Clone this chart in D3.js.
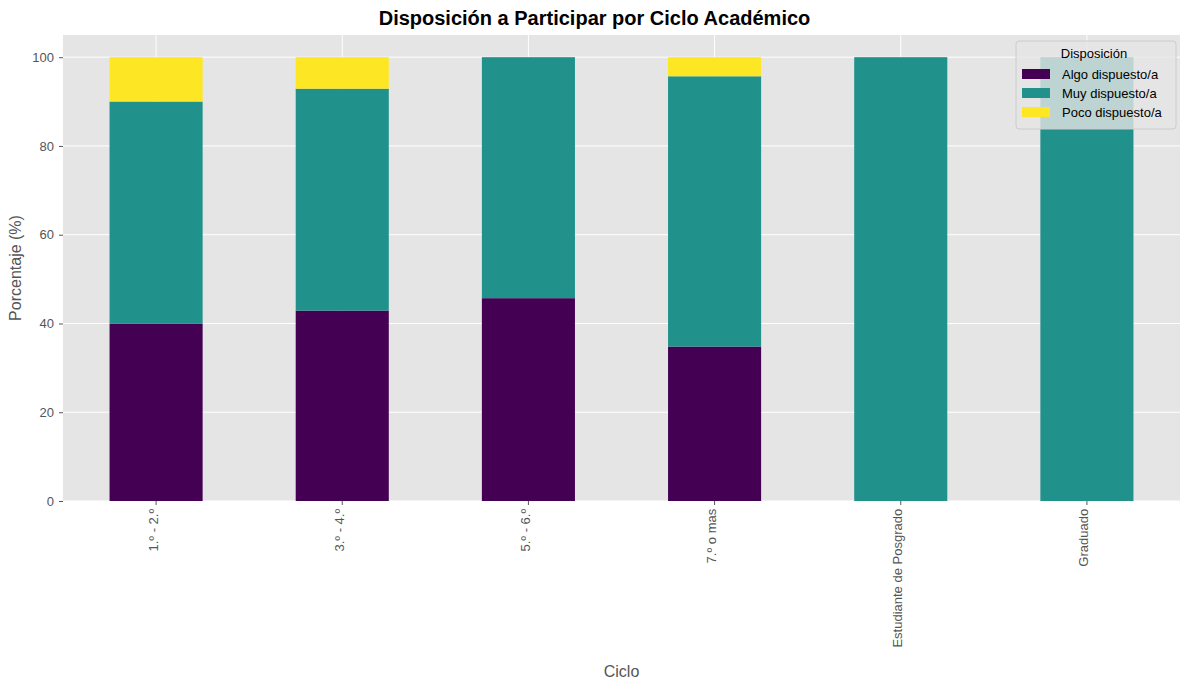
<!DOCTYPE html>
<html><head><meta charset="utf-8">
<script src="https://cdn.jsdelivr.net/npm/d3@7"></script>
<style>body{margin:0;background:#fff;font-family:Arial,"Liberation Sans",sans-serif}</style>
</head><body><div id="chart"></div>
<script>
var categories = ["1.º - 2.º", "3.º - 4.º", "5.º - 6.º", "7.º o mas", "Estudiante de Posgrado", "Graduado"];
var seriesNames = ["Algo dispuesto/a", "Muy dispuesto/a", "Poco dispuesto/a"];
var algo = [40.0, 42.9, 45.7, 34.8, 0, 0];
var muy = [50.0, 50.0, 54.3, 60.9, 100, 100];
var poco = [10.0, 7.1, 0, 4.3, 0, 0];
var colors = ["#440154", "#21918c", "#fde725"];
var yTicks = [0, 20, 40, 60, 80, 100];

var margin = {top: 35, right: 9, bottom: 189, left: 63};
var width = 1189 - margin.left - margin.right;
var height = 690 - margin.top - margin.bottom;

var svg = d3.select("#chart").append("svg")
	.attr("width", 1189).attr("height", 690);

svg.append("text").attr("x", 1189 / 2).attr("y", 25)
	.attr("text-anchor", "middle").style("font-size", "20px").style("font-weight", "bold")
	.text("Disposición a Participar por Ciclo Académico");

var g = svg.append("g").attr("transform", "translate(" + margin.left + "," + margin.top + ")");

var x = d3.scaleBand().domain(categories).range([0, width]).paddingInner(0.5).paddingOuter(0.25);
var y = d3.scaleLinear().domain([0, 105]).range([height, 0]);

g.append("rect").attr("width", width).attr("height", height).attr("fill", "#e5e5e5");

// grid
g.selectAll(".gy").data(yTicks).enter().append("line")
	.attr("x1", 0).attr("x2", width).attr("y1", d => y(d)).attr("y2", d => y(d))
	.attr("stroke", "#fff").attr("stroke-width", 1);
g.selectAll(".gx").data(categories).enter().append("line")
	.attr("y1", 0).attr("y2", height)
	.attr("x1", d => x(d) + x.bandwidth() / 2).attr("x2", d => x(d) + x.bandwidth() / 2)
	.attr("stroke", "#fff").attr("stroke-width", 1);

// stacked bars
var rows = categories.map((c, i) => ({cat: c, s0: algo[i], s1: muy[i], s2: poco[i]}));
var stack = d3.stack().keys(["s0", "s1", "s2"])(rows);
stack.forEach(function(layer, k) {
	g.selectAll(".b" + k).data(layer).enter().append("rect")
		.attr("x", d => x(d.data.cat))
		.attr("width", x.bandwidth())
		.attr("y", d => y(d[1]))
		.attr("height", d => y(d[0]) - y(d[1]))
		.attr("fill", colors[k]);
});

// axes
var yAxis = g.append("g").call(d3.axisLeft(y).tickValues(yTicks).tickSize(4).tickPadding(5));
yAxis.select(".domain").remove();
yAxis.selectAll("line").attr("stroke", "#555");
yAxis.selectAll("text").style("font-size", "13px").attr("fill", "#555");

var xAxis = g.append("g").attr("transform", "translate(0," + height + ")")
	.call(d3.axisBottom(x).tickSize(4).tickPadding(4));
xAxis.select(".domain").remove();
xAxis.selectAll("line").attr("stroke", "#555");
xAxis.selectAll("text").style("font-size", "13px").attr("fill", "#555")
	.style("text-anchor", "end").attr("dx", "-0.6em").attr("dy", "-0.5em")
	.attr("transform", "rotate(-90)");

svg.append("text").attr("x", margin.left + width / 2).attr("y", 677)
	.attr("text-anchor", "middle").style("font-size", "16px").attr("fill", "#555").text("Ciclo");
svg.append("text").attr("transform", "translate(21," + (margin.top + height / 2) + ") rotate(-90)")
	.attr("text-anchor", "middle").style("font-size", "16px").attr("fill", "#555").text("Porcentaje (%)");

// legend
var lg = svg.append("g").attr("transform", "translate(1016,41)");
lg.append("rect").attr("width", 160).attr("height", 88).attr("rx", 3)
	.attr("fill", "#e5e5e5").attr("fill-opacity", 0.8).attr("stroke", "#ccc");
lg.append("text").attr("x", 78).attr("y", 17).attr("text-anchor", "middle")
	.style("font-size", "13px").text("Disposición");
seriesNames.forEach(function(n, i) {
	lg.append("rect").attr("x", 6).attr("y", 28 + i * 19).attr("width", 28).attr("height", 10).attr("fill", colors[i]);
	lg.append("text").attr("x", 46).attr("y", 38 + i * 19).attr("text-anchor", "start")
		.style("font-size", "13px").text(n);
});
</script></body></html>
